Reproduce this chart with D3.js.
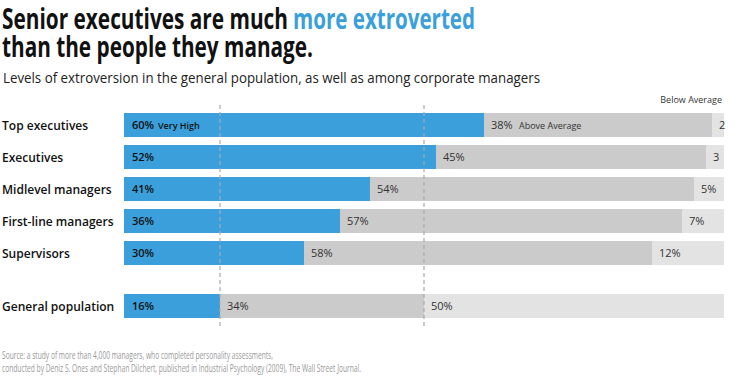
<!DOCTYPE html>
<html><head><meta charset="utf-8">
<script src="https://cdn.jsdelivr.net/npm/d3@7"></script>
<style>
body{margin:0;background:#fff;font-family:"Open Sans",sans-serif;}
svg{display:block;}
</style></head>
<body><svg id="c" width="740" height="382"></svg>
<script>
const categories = ["Top executives","Executives","Midlevel managers","First-line managers","Supervisors","General population"];
const veryHigh = [60,52,41,36,30,16];
const aboveAverage = [38,45,54,57,58,34];
const belowAverage = [2,3,5,7,12,50];
const belowLabels = ["2","3","5%","7%","12%","50%"];
const refLines = [16,50];

const svg = d3.select("#c");
const blue = "#3a9fda", gray = "#cbcbcb", light = "#e3e3e3";

function squishTo(sel, w){
  sel.attr("textLength", w).attr("lengthAdjust","spacingAndGlyphs");
  return sel;
}
function squish(sel, f){
  sel.each(function(){
    const w = this.getComputedTextLength();
    d3.select(this).attr("textLength", w*f).attr("lengthAdjust","spacingAndGlyphs");
  });
  return sel;
}

// title
squishTo(svg.append("text").attr("x",2).attr("y",29).attr("font-size",28).attr("font-weight",700).attr("fill","#111").text("Senior executives are much"),286);
squishTo(svg.append("text").attr("x",293).attr("y",29).attr("font-size",28).attr("font-weight",700).attr("fill",blue).text("more extroverted"),182);
squishTo(svg.append("text").attr("x",2).attr("y",57).attr("font-size",28).attr("font-weight",700).attr("fill","#111").text("than the people they manage."),311);
squishTo(svg.append("text").attr("x",3).attr("y",83).attr("font-size",14).attr("fill","#222").text("Levels of extroversion in the general population, as well as among corporate managers"),537);

const x = d3.scaleLinear().domain([0,100]).range([124,724]);
const yPos = categories.map((c,i)=> i<5 ? 113+i*32 : 294);
const bh = 24;

const rows = categories.map((c,i)=>({c,i,y:yPos[i],
  segs:[{s:0,v:veryHigh[i],col:blue,lab:veryHigh[i]+"%",bold:true},
        {s:veryHigh[i],v:aboveAverage[i],col:gray,lab:aboveAverage[i]+"%"},
        {s:veryHigh[i]+aboveAverage[i],v:belowAverage[i],col:light,lab:belowLabels[i]}]}));

const g = svg.append("g");
rows.forEach(r=>{
  g.selectAll(null).data(r.segs).join("rect")
   .attr("x",d=>x(d.s)).attr("y",r.y).attr("width",d=>x(d.s+d.v)-x(d.s)).attr("height",bh)
   .attr("fill",d=>d.col);
});

svg.selectAll(".ref").data(refLines).join("line")
  .attr("x1",d=>x(d)).attr("x2",d=>x(d)).attr("y1",105).attr("y2",326)
  .attr("stroke","#aaa").attr("stroke-width",1.2).attr("stroke-dasharray","4,3");

rows.forEach(r=>{
  squish(svg.append("text").attr("x",2).attr("y",r.y+bh/2+4.5).attr("font-size",13).attr("font-weight",600).attr("fill","#111").text(r.c),0.925);
  svg.selectAll(null).data(r.segs).join("text")
   .attr("x",d=>x(d.s)+(d.s===0?8:7)).attr("y",r.y+bh/2+4)
   .attr("font-size",11).attr("font-weight",d=>d.bold?600:400)
   .attr("fill",d=>d.bold?"#111":"#333").text(d=>d.lab);
});

svg.append("text").attr("x",x(0)+34).attr("y",yPos[0]+bh/2+3.5).attr("font-size",9).attr("font-weight",600).attr("fill","#111").text("Very High");
svg.append("text").attr("x",x(veryHigh[0])+35).attr("y",yPos[0]+bh/2+3.5).attr("font-size",9).attr("fill","#333").text("Above Average");
svg.append("text").attr("x",722).attr("y",103).attr("text-anchor","end").attr("font-size",9).attr("fill","#333").text("Below Average");

squishTo(svg.append("text").attr("x",2).attr("y",359).attr("font-size",10).attr("fill","#999").text("Source: a study of more than 4,000 managers, who completed personality assessments,"),271);
squishTo(svg.append("text").attr("x",2).attr("y",372).attr("font-size",10).attr("fill","#999").text("conducted by Deniz S. Ones and Stephan Dilchert, published in Industrial Psychology (2009), The Wall Street Journal."),359);
</script></body></html>
